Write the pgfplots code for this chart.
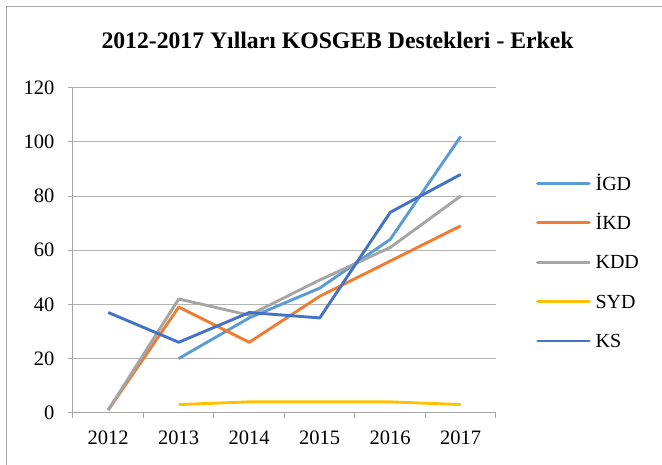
\documentclass[border=0pt]{standalone}
\usepackage{pgfplots}
\pgfplotsset{compat=1.18}
\usepackage{fontspec}
\setmainfont{Liberation Serif}
\definecolor{cIGD}{HTML}{5B9BD5}
\definecolor{cIKD}{HTML}{ED7D31}
\definecolor{cKDD}{HTML}{A5A5A5}
\definecolor{cSYD}{HTML}{FFC000}
\definecolor{cKS}{HTML}{4472C4}
\definecolor{axisgray}{HTML}{A6A6A6}
\definecolor{gridgray}{HTML}{B3B3B3}
\begin{document}
\begin{tikzpicture}[x=1pt,y=1pt]
\useasboundingbox (0,0) rectangle (662,-464);
\draw[draw=axisgray, line width=1.2pt] (6.5,-6.5) rectangle (720,-520);
\node[font=\fontsize{23.7}{26}\selectfont\bfseries] at (337.5,-40) {2012-2017 Yılları KOSGEB Destekleri - Erkek};
\begin{axis}[
  at={(73pt,-412.7pt)}, anchor=south west,
  scale only axis, width=423pt, height=325pt,
  xmin=-0.5, xmax=5.5, ymin=0, ymax=120,
  axis lines*=left,
  axis line style={-, draw=axisgray, line width=1pt},
  ytick={0,20,...,120},
  xtick={0,1,2,3,4,5},
  xticklabels={2012,2013,2014,2015,2016,2017},
  minor xtick={-0.5,0.5,1.5,2.5,3.5,4.5,5.5},
  tick align=outside,
  major tick length=5pt,
  minor tick length=5pt,
  major x tick style={draw=none},
  minor x tick style={draw=axisgray, line width=1pt},
  ytick style={draw=axisgray, line width=1pt},
  ymajorgrids,
  major grid style={draw=gridgray, line width=1pt},
  /pgf/number format/assume math mode=true,
  tick label style={font=\fontsize{20.5}{24}\selectfont},
  yticklabel style={xshift=-10pt},
  xticklabel style={yshift=-10pt},
  every axis plot/.append style={line width=2.9pt, line join=round, no markers},
  legend style={at={(axis description cs:1.0946,0.463)}, anchor=west, draw=none, fill=none,
    inner sep=0pt, row sep=25.9pt, column sep=5pt,
    font=\fontsize{20}{24}\selectfont,
    nodes={inner sep=0pt, text height=13.5pt, text depth=0pt}},
  legend cell align=left,
  legend image code/.code={\draw[#1, line cap=round] (1.4pt,0pt) -- (52.9pt,0pt);},
]
\addplot[cIGD] coordinates {(1,20)(2,35)(3,46)(4,64)(5,102)};
\addlegendentry{İGD}
\addplot[cIKD] coordinates {(0,1)(1,39)(2,26)(3,43)(4,56)(5,69)};
\addlegendentry{İKD}
\addplot[cKDD] coordinates {(0,1)(1,42)(2,36)(3,49)(4,61)(5,80)};
\addlegendentry{KDD}
\addplot[cSYD] coordinates {(1,3)(2,4)(3,4)(4,4)(5,3)};
\addlegendentry{SYD}
\addplot[cKS] coordinates {(0,37)(1,26)(2,37)(3,35)(4,74)(5,88)};
\addlegendentry{KS}
\end{axis}
\end{tikzpicture}
\end{document}
